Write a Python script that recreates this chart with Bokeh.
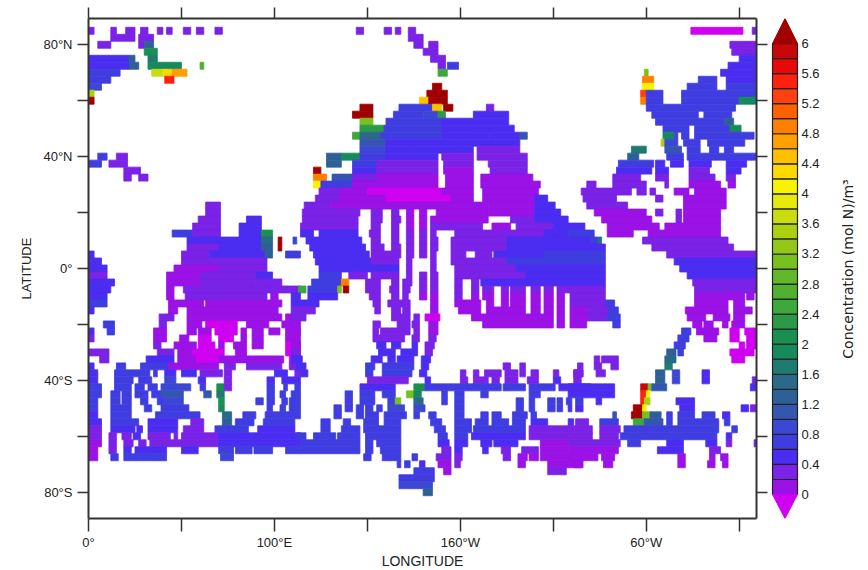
from math import pi
from bokeh.plotting import figure
from bokeh.layouts import row
from bokeh.models import LinearAxis, FixedTicker, ColumnDataSource, LinearColorMapper, Range1d
from bokeh.core.properties import value
from bokeh.embed import file_html
from bokeh.resources import INLINE

FONT = "Liberation Sans"
CELL_HEIGHT = 2.5

PALETTE = ["#9a12e6", "#7a22e6", "#4a2df0", "#3f3de0", "#3c48d4", "#3456b0", "#2e6098", "#2a6a88",
           "#1f7a70", "#168a5c", "#1a9050", "#2a9a48", "#3da83c", "#50b030", "#60b82a", "#78c020",
           "#94c818", "#acd010", "#c8dc10", "#e6ea08", "#f8f400", "#ffd800", "#ffc000", "#ffa000",
           "#ff8000", "#ff6000", "#ff4010", "#ff2010", "#e80808", "#c80808"]
UNDER_COLOR = "#d000f0"
OVER_COLOR = "#a00000"

LON_TICKS = [0, 50, 100, 150, 200, 250, 300, 350]
LON_LABELS = {0: "0°", 100: "100°E", 200: "160°W", 300: "60°W"}
LAT_TICKS = [80, 60, 40, 20, 0, -20, -40, -60, -80]
LAT_LABELS = {80: "80°N", 40: "40°N", 0: "0°", -40: "40°S", -80: "80°S"}
BAR_TICKS = [0, 0.4, 0.8, 1.2, 1.6, 2, 2.4, 2.8, 3.2, 3.6, 4, 4.4, 4.8, 5.2, 5.6, 6]
BAR_LABELS = ["0", "0.4", "0.8", "1.2", "1.6", "2", "2.4", "2.8", "3.2", "3.6", "4", "4.4", "4.8", "5.2", "5.6", "6"]

# latitude: [(lon start, lon end, concentration), ...]
ARCTIC_W = {
    85: [(0,3,.2),(12,15,.2),(20,25,.2),(28,32,.2),(37,40,.2),(42,45,.2),(51,55,.2),(58,62,.2),(68,72,.2)],
    82.5: [(12,25,.2),(27,35,.2)],
    80: [(5,12,.2),(27,30,.3),(30,35,1.2)],
    77.5: [(30,37,2)],
    75: [(0,22,.5),(22,25,1.4),(32,37,1.6)],
    72.5: [(0,22,.4),(22,27,1.3),(32,50,1.9),(60,62,2.6)],
    70: [(0,17,.6),(34,40,3.6),(40,45,4.2),(45,53,4.6)],
    67.5: [(0,12,.7),(41,46,5.6)],
    65: [(0,7,.8)],
    62.5: [(0,3,3.5)],
    60: [(0,3,6.5)],
    40: [(5,10,.7),(15,21,.3)],
    37.5: [(0,7,.7),(11,21,.3)],
    35: [(19,28,.2)],
    32.5: [(19,23,.2),(27,32,.2)],
}
ARCTIC_C = {
    85: [(144,148,.2),(159,163,.2),(165,168,.2),(172,176,.2)],
    82.5: [(172,180,.2)],
    80: [(175,180,.2),(183,188,.2)],
    77.5: [(180,188,.2)],
    75: [(184,192,.2)],
    72.5: [(188,192,.2),(193,199,.7)],
    70: [(188,193,2.5)],
}
N_PACIFIC = {
    65: [(185,190,6.5)],
    62.5: [(182,193,6.5)],
    60: [(178,183,4.5),(183,193,6.5)],
    57.5: [(146,153,6.5),(167,185,.7),(185,190,4.5),(191,196,6.5),(214,218,.3)],
    55: [(142,153,6.5),(164,180,.7),(180,188,.9),(188,192,2.2),(207,226,.4)],
    52.5: [(146,153,3),(160,190,.7),(190,205,.5),(205,226,.4)],
    50: [(146,159,2.2),(159,190,.7),(190,210,.5),(210,229,.4)],
    47.5: [(142,146,2.4),(146,157,1.5),(157,190,.6),(190,215,.5),(215,232,.4),(232,236,1.1)],
    45: [(146,160,1.1),(160,200,.5),(200,232,.45)],
    42.5: [(146,160,.9),(160,175,.45),(175,207,.5),(209,232,.3)],
    40: [(128,136,1.3),(136,146,1.8),(146,160,.7),(160,188,.45),(190,207,.35),(209,236,.3)],
    37.5: [(128,136,1.3),(142,155,.6),(155,188,.35),(191,207,.25),(215,236,.25)],
    35: [(121,125,6.5),(142,155,.5),(155,188,.2),(191,207,.15),(216,236,.2)],
    32.5: [(121,128,4.8),(131,142,1.1),(142,155,.3),(155,188,.15),(192,207,.1),(211,239,.15)],
    30: [(121,125,4),(125,142,.7),(142,170,.15),(170,188,.05),(192,207,.05),(211,243,.1)],
    27.5: [(124,135,.3),(135,150,.1),(150,190,-.1),(190,207,.05),(212,242,.05)],
}
N_ATLANTIC = {
    85: [(324,352,-.1),(357,359,.2)],
    80: [(345,359,.3)],
    77.5: [(346,359,.2)],
    75: [(350,359,.5)],
    72.5: [(344,359,.5)],
    70: [(299,301,3),(340,359,.5)],
    67.5: [(298,304,5),(328,338,.6),(343,359,.5)],
    65: [(298,304,4),(322,338,.7),(343,359,.6)],
    62.5: [(297,300,5.2),(300,309,.7),(319,359,.6)],
    60: [(297,300,5),(300,309,.7),(319,350,.6),(350,359,1.9)],
    57.5: [(300,348,.7)],
    55: [(303,328,.7),(331,346,.7)],
    52.5: [(305,342,.7),(342,347,1.4)],
    50: [(309,323,.7),(326,345,.7),(345,351,1.9)],
    47.5: [(309,315,1.9),(315,317,.9),(319,323,.7),(326,358,.7)],
    45: [(308,310,3.5),(310,317,.9),(320,329,.7),(333,353,.7)],
    42.5: [(292,300,1.6),(310,319,1),(322,329,.7),(334,339,.7),(342,347,.7)],
    40: [(290,296,1.2),(311,320,.7),(322,359,.7)],
    37.5: [(285,304,.6),(305,310,.5),(313,320,.5),(323,335,.5),(343,354,.5)],
    35: [(284,303,.4),(305,312,.4),(323,334,.3),(343,351,.4)],
    32.5: [(282,297,.3),(305,312,.3),(323,337,.2),(343,348,.2)],
    30: [(268,273,.2),(282,300,.2),(310,312,.2),(323,340,.1),(344,348,.1)],
    27.5: [(265,292,.2),(295,300,.2),(302,305,.2),(315,323,.15),(326,343,.1)],
    25: [(266,284,.2),(305,309,.2),(320,343,.1)],
    22.5: [(268,290,.2),(320,343,.1)],
    20: [(272,300,.15),(305,309,.2),(316,319,.2),(320,340,.1)],
    17.5: [(276,303,.15),(316,319,.2),(320,340,.1)],
    15: [(279,307,.15),(310,340,.1)],
    12.5: [(279,293,.15),(301,340,.15)],
    10: [(298,344,.2)],
    7.5: [(303,347,.25)],
    5: [(311,359,.3)],
    2.5: [(315,359,.4)],
    0: [(318,359,.5)],
}
S_ATLANTIC = {
    -2.5: [(322,359,.4)],
    -5: [(325,359,.3)],
    -7.5: [(326,359,.2)],
    -10: [(326,353,.15),(354,358,.15)],
    -12.5: [(326,344,.1),(347,353,.15)],
    -15: [(321,344,.1),(347,357,.1)],
    -17.5: [(322,332,.1),(336,341,.1),(341,345,.1),(347,353,.1)],
    -20: [(325,330,.1),(331,336,.1),(341,344,.1),(346,353,.1)],
    -22.5: [(319,324,.7),(327,339,.05),(345,350,-.1),(353,359,-.1)],
    -25: [(317,323,.7),(331,338,.05),(345,350,-.1),(354,359,-.1)],
    -27.5: [(315,321,.7),(350,353,-.1),(354,359,-.1)],
    -30: [(311,316,1.4),(317,320,.7),(345,358,-.1)],
    -32.5: [(272,275,.3),(276,285,.3),(310,316,1.5),(346,353,-.1)],
    -35: [(272,276,.3),(281,285,.3),(310,314,1.6)],
    -37.5: [(261,266,.3),(273,278,.3),(305,310,1.3),(314,318,.8),(330,334,.4)],
    -40: [(261,265,.3),(305,310,1.3),(314,318,.8),(330,334,.4),(357,359,.3)],
    -42.5: [(258,283,.5),(297,301,6),(301,303,3),(303,311,1),(356,359,.5)],
    -45: [(258,283,.5),(297,300,5.5),(300,302,4)],
    -47.5: [(273,276,.5),(297,299,5.5),(299,302,3.5),(316,326,.5)],
    -50: [(258,260,.4),(262,266,.4),(293,298,6.5),(298,300,4),(318,326,.5),(351,355,.5),(356,359,.3)],
    -52.5: [(282,284,1),(292,298,6.5),(298,302,3),(302,308,1.3),(311,314,.7),(317,326,.6),(330,337,.6),(341,345,.5)],
    -55: [(258,261,.4),(262,269,.3),(275,285,.6),(293,299,2.5),(299,309,1),(311,314,.7),(317,339,.7),(342,345,.7)],
    -57.5: [(258,271,.3),(275,286,.3),(288,339,.6),(346,349,.7)],
    -60: [(258,271,.2),(275,285,.2),(286,338,.6),(343,346,.5)],
    -62.5: [(258,286,.2),(290,297,.6),(311,320,.5),(332,338,.4),(343,346,.3),(358,359,.2)],
    -65: [(258,285,.15),(306,320,.4),(334,340,.2)],
    -67.5: [(258,274,.1),(276,283,.1),(317,321,.1),(334,337,.1),(340,344,.1)],
    -70: [(258,266,.1),(277,282,.1),(317,321,.1),(333,337,.1),(341,344,.1)],
}
INDIAN = {
    22.5: [(63,71,.3)],
    20: [(63,71,.25)],
    17.5: [(59,71,.25),(85,93,.4)],
    15: [(56,71,.25),(81,93,.4)],
    12.5: [(45,56,.7),(56,71,.3),(81,93,.5),(93,99,2)],
    10: [(53,65,.4),(65,81,.5),(81,93,.5),(93,99,1.5),(102,104,6.5),(110,112,.8)],
    7.5: [(53,70,.3),(70,93,.5),(93,99,1.3),(102,104,6.5)],
    5: [(0,3,.5),(50,65,.3),(65,95,.4),(95,99,1.3),(106,114,.7)],
    2.5: [(0,7,.5),(50,70,.2),(70,96,.35)],
    0: [(0,10,.4),(46,70,.15),(70,96,.3)],
    -2.5: [(0,10,.35),(42,60,.15),(60,90,.25),(90,99,.4)],
    -5: [(0,14,.4),(42,60,.1),(60,90,.3),(90,104,.25)],
    -7.5: [(0,12,.4),(42,46,.1),(51,75,.2),(75,96,.2),(96,114,.2)],
    -10: [(0,10,.45),(42,46,.1),(52,96,.2),(98,102,.15)],
    -12.5: [(0,10,.7),(43,53,.1),(53,62,.1),(63,100,.15),(100,104,.1)],
    -15: [(0,3,.5),(43,48,.15),(53,102,.1)],
    -17.5: [(38,46,.2),(53,104,.05),(106,114,.1)],
    -20: [(8,14,.7),(38,42,.2),(53,61,.05),(63,80,-.1),(85,97,.05),(104,113,.1)],
    -22.5: [(0,3,.4),(10,14,.7),(35,42,.15),(53,58,.05),(59,66,.05),(68,80,-.1),(82,85,.05),(88,94,.1),(97,103,.1),(106,114,.1)],
    -25: [(0,3,.35),(35,42,.15),(49,54,.1),(59,66,-.1),(70,78,-.1),(82,85,.05),(88,94,.1),(106,113,.1)],
    -27.5: [(35,39,.2),(46,58,.05),(59,68,-.1),(70,73,.05),(78,85,.05),(88,94,.1),(106,114,-.1)],
    -30: [(0,11,.2),(37,46,.3),(48,56,.05),(56,73,-.1),(79,85,.05),(106,114,-.1)],
    -32.5: [(6,11,.2),(31,46,.4),(48,58,.05),(58,70,-.1),(70,105,.1),(108,114,-.1)],
    -35: [(0,3,.4),(15,20,.7),(28,43,.6),(43,70,.15),(73,79,.2),(85,104,.3),(108,114,.2)],
    -37.5: [(0,5,.5),(14,33,.6),(35,37,.6),(41,47,.5),(50,58,.4),(60,72,.3),(73,77,.3),(100,107,.4),(111,114,.3)],
    -40: [(0,5,.5),(14,24,.6),(27,34,.6),(41,47,.9),(59,63,.5),(73,77,.2),(96,100,.4),(104,114,.4)],
}
S_INDIAN = {
    -42.5: [(0,7,.6),(14,23,.6),(25,30,.6),(32,37,.7),(39,55,.9),(60,63,.6),(69,73,2),(73,77,.2),(96,100,.6),(105,107,.6),(111,114,.6)],
    -45: [(0,7,.6),(12,17,.6),(18,23,.6),(25,32,.6),(34,39,.6),(39,51,1.1),(62,66,1),(69,73,1.7),(96,100,.6),(103,106,.6),(109,114,.6)],
    -47.5: [(0,5,.6),(12,17,.6),(18,23,.6),(28,32,.6),(37,41,.6),(41,51,.9),(70,73,2),(90,94,.7),(96,100,.6),(104,107,.6),(108,114,.6)],
    -50: [(0,5,.6),(12,23,.6),(30,34,.6),(39,54,.7),(70,73,1.9),(96,99,.6),(103,106,.6),(108,114,.6)],
    -52.5: [(0,5,.5),(12,23,.6),(36,60,.6),(72,77,1.5),(83,90,.7),(95,114,.6)],
    -55: [(0,7,.4),(12,27,.6),(32,48,.5),(55,62,.3),(72,77,1.3),(79,89,.7),(94,111,.6)],
    -57.5: [(0,7,.3),(12,25,.5),(26,29,.5),(32,48,.4),(51,62,.3),(68,77,.6),(77,86,.6),(91,111,.5)],
    -60: [(0,7,.2),(11,15,.2),(18,23,.3),(24,28,.4),(32,44,.3),(46,48,.3),(50,70,.2),(70,114,.5)],
    -62.5: [(0,7,.15),(11,15,.2),(19,24,.3),(27,31,.3),(33,70,.2),(70,114,.5)],
    -65: [(0,5,.1),(11,15,.2),(19,23,.4),(25,42,.4),(50,59,.5),(70,78,.6),(79,88,.6),(89,99,.6),(106,114,.6)],
    -67.5: [(0,5,.1),(12,16,.6),(19,35,.6),(35,42,.6),(71,78,.8)],
}
MID_PACIFIC = {
    25: [(122,135,.3),(135,160,.1),(160,195,-.1),(195,207,.05),(212,240,.05),(240,247,.4)],
    22.5: [(116,130,.3),(130,175,.15),(175,215,.05),(215,240,.05),(240,251,.4)],
    20: [(115,146,.3),(152,158,.2),(163,167,.2),(171,175,.1),(178,182,.1),(187,215,.1),(215,240,.1),(240,254,.4)],
    17.5: [(115,145,.3),(152,158,.2),(163,168,.2),(171,175,.15),(178,182,.15),(184,215,.15),(227,240,.2),(240,258,.4)],
    15: [(114,145,.35),(152,157,.25),(163,167,.2),(171,175,.15),(178,182,.15),(184,212,.2),(217,227,.15),(230,250,.25),(250,267,.5)],
    12.5: [(114,121,.5),(124,145,.4),(151,157,.3),(163,167,.2),(171,175,.2),(178,182,.2),(184,187,.2),(197,220,.2),(220,245,.3),(245,258,.5),(258,272,.7)],
    10: [(117,147,.45),(152,157,.3),(163,167,.25),(171,175,.2),(178,182,.2),(184,188,.2),(195,225,.25),(225,250,.4),(250,270,.5),(270,274,.7),(274,276,1.5)],
    7.5: [(119,149,.5),(152,159,.3),(163,168,.25),(171,175,.2),(178,182,.2),(184,188,.2),(195,225,.3),(225,278,.5)],
    5: [(121,151,.5),(152,163,.3),(163,168,.25),(171,175,.2),(178,182,.2),(184,187,.2),(195,203,.3),(208,217,.3),(218,245,.4),(245,278,.6)],
    2.5: [(122,152,.5),(152,167,.3),(171,174,.2),(184,187,.2),(195,225,.3),(225,278,.6)],
    0: [(124,167,.4),(171,174,.2),(184,187,.2),(197,230,.3),(230,278,.5)],
    -2.5: [(124,136,.7),(140,150,.35),(152,167,.3),(171,174,.2),(178,182,.2),(184,188,.2),(197,235,.25),(235,278,.5)],
    -5: [(120,136,.7),(136,140,5),(149,157,.3),(163,167,.2),(169,174,.2),(178,182,.2),(184,188,.2),(197,201,.2),(206,210,.2),(211,278,.4)],
    -7.5: [(113,117,2.5),(118,134,.6),(134,136,3),(137,140,6.5),(149,157,.25),(162,167,.2),(169,173,.2),(178,182,.2),(184,188,.2),(197,201,.2),(206,210,.2),(212,218,.2),(222,226,.2),(227,235,.2),(238,243,.2),(245,250,.2),(252,278,.3)],
    -10: [(109,114,.5),(118,134,.5),(151,157,.25),(163,167,.2),(169,172,.2),(178,182,.15),(184,188,.15),(197,201,.2),(206,210,.15),(212,218,.15),(222,226,.15),(227,235,.15),(238,243,.15),(245,250,.15),(252,256,.15),(259,278,.3)],
    -12.5: [(109,124,.4),(153,157,.2),(161,173,.2),(184,188,.15),(197,211,.15),(214,218,.15),(222,226,.15),(227,235,.15),(238,243,.15),(245,250,.15),(252,256,.15),(259,278,.2),(278,283,.7)],
    -15: [(109,122,.3),(154,157,.2),(163,168,.2),(169,173,.2),(184,188,.15),(199,211,.15),(214,235,.1),(238,243,.1),(245,250,.1),(252,256,.1),(259,268,.1),(268,280,.2),(280,285,.7)],
    -17.5: [(109,117,.2),(163,173,.25),(175,178,.25),(181,189,-.1),(206,250,.1),(252,256,.1),(259,269,.1),(269,279,.2),(279,286,.7)],
    -20: [(109,114,.1),(153,157,.3),(166,173,.3),(174,178,.3),(183,188,.1),(212,250,.1),(252,256,.1),(259,268,.1),(282,286,.7)],
    -22.5: [(109,114,.1),(153,156,.3),(157,173,.3),(175,178,.3),(183,188,.15)],
    -25: [(109,114,.1),(153,170,.3),(174,178,.3),(183,187,.2)],
    -27.5: [(109,114,.1),(155,160,.4),(163,168,.4),(174,177,.4),(181,186,.3)],
    -30: [(109,114,.2),(156,165,.4),(168,177,.45),(181,185,.3)],
    -32.5: [(109,115,.4),(152,158,.5),(161,165,.5),(166,175,.5),(179,184,.4)],
    -35: [(112,117,.5),(149,154,.6),(158,175,.6),(179,183,.5),(223,227,.3),(232,235,.3),(263,266,.3)],
    -37.5: [(114,118,.5),(149,153,.6),(158,174,.7),(178,182,.5),(200,203,.3),(207,210,.3),(213,222,.3),(224,231,.3),(232,235,.3),(238,242,.3),(250,253,.3),(261,266,.3)],
}
S_PACIFIC = {
    -40: [(150,172,.3),(181,184,.5),(200,204,.3),(207,215,.3),(217,221,.3),(224,231,.3),(236,242,.3),(250,254,.4)],
    -42.5: [(146,165,.5),(175,181,2),(181,222,.6),(223,235,.6),(237,251,.6),(253,270,.5)],
    -45: [(138,142,.6),(146,154,.6),(158,165,.7),(171,175,3),(175,179,1.8),(190,193,.6),(197,202,.6),(211,215,.6),(237,243,.6)],
    -47.5: [(138,142,.6),(146,154,.6),(161,165,.7),(165,168,3),(175,180,1.5),(190,193,.6),(197,202,.6),(230,234,.6),(237,240,.6),(247,251,.6),(252,255,.6),(257,260,.6),(262,266,.6)],
    -50: [(132,136,.6),(138,142,.6),(144,148,.6),(149,153,.6),(155,158,.6),(161,170,.9),(175,181,.9),(197,202,.6),(230,234,.6),(237,240,.6),(247,251,.6),(252,255,.6)],
    -52.5: [(132,136,.6),(144,148,.6),(149,156,.6),(159,171,.7),(175,178,.7),(183,187,.6),(197,202,.6),(211,215,.6),(217,222,.6),(228,236,.6),(238,241,.6)],
    -55: [(125,130,.6),(137,141,.6),(148,156,.6),(159,168,.7),(184,190,.6),(197,206,.6),(208,215,.6),(217,226,.6),(228,235,.6),(238,247,.5)],
    -57.5: [(125,130,.6),(136,146,.6),(148,168,.7),(186,192,.6),(197,206,.6),(207,235,.6),(237,258,.2)],
    -60: [(112,117,.6),(121,133,.6),(134,146,.6),(149,168,.7),(188,193,.6),(197,204,.6),(206,235,.5),(237,258,.2)],
    -62.5: [(114,146,.6),(149,153,.7),(155,168,.7),(188,194,.4),(197,204,.5),(211,217,.5),(218,231,.4),(243,258,.1)],
    -65: [(114,146,.6),(149,153,.7),(157,168,.7),(190,195,.3),(197,201,.4),(212,215,.4),(222,227,.3),(233,242,.2),(243,258,.1)],
    -67.5: [(148,152,.6),(158,168,.7),(174,177,.6),(187,195,.2),(197,201,.2),(223,227,.2),(231,236,.1),(237,242,.1),(243,265,.1)],
    -70: [(166,168,.6),(170,173,.6),(178,181,.5),(188,195,.1),(197,200,.2),(231,235,.1),(247,258,.1),(261,265,.1)],
    -72.5: [(175,186,.6),(191,195,.1),(247,257,.3)],
    -75: [(167,186,.7)],
    -77.5: [(167,185,.9)],
    -80: [(180,185,1.3)],
}
REGIONS = [ARCTIC_W, ARCTIC_C, N_PACIFIC, N_ATLANTIC, S_ATLANTIC, INDIAN, S_INDIAN, MID_PACIFIC, S_PACIFIC]

left, right, top, bottom, conc = [], [], [], [], []
for region in REGIONS:
    for lat, runs in region.items():
        for lon0, lon1, v in runs:
            left.append(lon0); right.append(lon1)
            top.append(lat + CELL_HEIGHT / 2); bottom.append(lat - CELL_HEIGHT / 2)
            conc.append(v)

mapper = LinearColorMapper(palette=PALETTE, low=0, high=6, low_color=UNDER_COLOR, high_color=OVER_COLOR)

p = figure(width=768, height=570, frame_width=668, frame_height=500,
           x_range=Range1d(0, 359.3), y_range=Range1d(-89.4, 89.4),
           output_backend="svg", toolbar_location=None,
           min_border_left=88, min_border_top=18, min_border_right=12, min_border_bottom=52,
           x_axis_label="LONGITUDE", y_axis_label="LATITUDE")
p.grid.visible = False
p.outline_line_color = None
p.quad(left="l", right="r", top="t", bottom="b",
       source=ColumnDataSource(dict(l=left, r=right, t=top, b=bottom, v=conc)),
       fill_color={"field": "v", "transform": mapper},
       line_color={"field": "v", "transform": mapper}, line_width=0.8)

AXIS_COLOR = "#333333"
def style(axis, ticks, labels, tick_out):
    axis.ticker = FixedTicker(ticks=ticks)
    axis.major_label_overrides = {t: labels.get(t, "") for t in ticks}
    axis.minor_tick_line_color = None
    axis.major_tick_in = 0
    axis.major_tick_out = tick_out
    axis.axis_line_color = AXIS_COLOR
    axis.axis_line_width = 2
    axis.major_tick_line_color = AXIS_COLOR
    axis.major_tick_line_width = 1.5
    axis.major_label_text_font = FONT
    axis.major_label_text_font_size = "13px"
    axis.major_label_text_color = "#222222"
    axis.axis_label_text_font = FONT
    axis.axis_label_text_font_style = "normal"
    axis.axis_label_text_color = "#222222"

style(p.xaxis[0], LON_TICKS, LON_LABELS, 13)
style(p.yaxis[0], LAT_TICKS, LAT_LABELS, 11)
p.xaxis[0].axis_label_text_font_size = "14px"
p.yaxis[0].axis_label_text_font_size = "13px"
p.xaxis[0].major_label_standoff = 3
p.xaxis[0].axis_label_standoff = 0
p.yaxis[0].major_label_standoff = 5
p.yaxis[0].axis_label_standoff = 6

top_axis = LinearAxis()
style(top_axis, LON_TICKS, {}, 11)
top_axis.major_label_text_font_size = "0px"
top_axis.major_label_standoff = 0
p.add_layout(top_axis, "above")
right_axis = LinearAxis()
style(right_axis, LAT_TICKS, {}, 11)
right_axis.major_label_text_font_size = "0px"
right_axis.major_label_standoff = 0
p.add_layout(right_axis, "right")

# colour bar
cb = figure(width=100, height=570, frame_width=100, frame_height=500,
            x_range=Range1d(-0.16, 3.84), y_range=Range1d(-0.319, 6.333),
            output_backend="svg", toolbar_location=None,
            min_border_left=0, min_border_right=0, min_border_top=18, min_border_bottom=52,
            x_axis_location=None, y_axis_location=None)
cb.grid.visible = False
cb.outline_line_color = None
n = len(PALETTE)
step = 6 / n
cb.quad(left=[0] * n, right=[1] * n, bottom=[i * step for i in range(n)], top=[(i + 1) * step for i in range(n)],
        fill_color=PALETTE, line_color="#222222", line_width=1.2)
cb.patch([0, 0.5, 1], [6, 6.333, 6], fill_color=OVER_COLOR, line_color=OVER_COLOR)
cb.patch([0, 0.5, 1], [0, -0.319, 0], fill_color=UNDER_COLOR, line_color=UNDER_COLOR)
cb.text(x=[1.16] * len(BAR_TICKS), y=BAR_TICKS, text=BAR_LABELS, text_font=value(FONT),
        text_font_size="13px", text_baseline="middle", text_color="#222222")
cb.text(x=[3.0], y=[3.03], text=["Concentration  (mol N)/m³"], angle=pi / 2, text_align="center",
        text_baseline="middle", text_font=value("DejaVu Sans"), text_font_size="14px", text_color="#222222")

layout = row(p, cb, spacing=0)
open("out.html", "w").write(file_html(layout, INLINE))
